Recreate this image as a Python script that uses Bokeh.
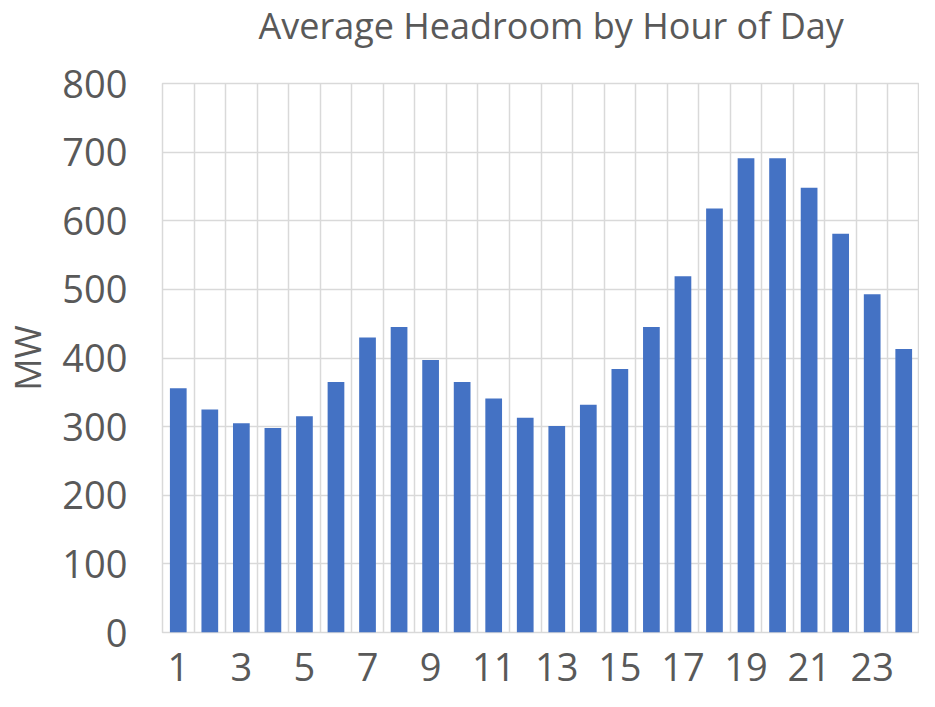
from bokeh.plotting import figure
from bokeh.models import FixedTicker, Range1d, Title
from bokeh.embed import file_html
from bokeh.resources import INLINE

# Data
hours = list(range(1, 25))
headroom = [356, 325, 305, 298, 315, 365, 430, 445, 397, 365, 341, 313,
            301, 332, 384, 445, 519, 618, 691, 691, 648, 581, 493, 413]
x_tick_hours = [1, 3, 5, 7, 9, 11, 13, 15, 17, 19, 21, 23]
y_ticks = [0, 100, 200, 300, 400, 500, 600, 700, 800]
title_text = "Average Headroom by Hour of Day"

TEXT = "#595959"
GRID = "#d9d9d9"
FONT = "Open Sans"

p = figure(width=919, height=691, output_backend="svg", toolbar_location=None,
           x_range=Range1d(0.5, 24.5), y_range=Range1d(0, 800),
           title=title_text,
           min_border_left=162, min_border_right=0,
           min_border_top=83, min_border_bottom=59)

p.vbar(x=hours, top=headroom, width=0.53, fill_color="#4472C4", line_color=None)

# title (outermost in the top panel)
p.title.text_font = FONT
p.title.text_font_size = "36px"
p.title.text_font_style = "normal"
p.title.text_color = TEXT
p.title.align = "left"
p.title.offset = 96
p.title.vertical_align = "top"
p.title.standoff = 0

# blank spacer between the title and the plot frame
spacer = Title(text=" ", text_font_size="2px", standoff=28)
p.add_layout(spacer, "above")

# axes
for ax in (p.xaxis, p.yaxis):
    ax.major_tick_in = 0
    ax.major_tick_out = 0
    ax.minor_tick_in = 0
    ax.minor_tick_out = 0
    ax.axis_line_color = None
    ax.major_label_text_font = FONT
    ax.major_label_text_font_size = "38px"
    ax.major_label_text_color = TEXT

p.xaxis.ticker = FixedTicker(ticks=x_tick_hours)
p.xaxis.major_label_standoff = 20
p.xaxis.major_label_text_line_height = 1.0
p.yaxis.ticker = FixedTicker(ticks=y_ticks)
p.yaxis.major_label_standoff = 35
p.yaxis.axis_label = "MW"
p.yaxis.axis_label_text_font = FONT
p.yaxis.axis_label_text_font_size = "36px"
p.yaxis.axis_label_text_font_style = "normal"
p.yaxis.axis_label_text_color = TEXT
p.yaxis.axis_label_standoff = 7

# grids
p.xgrid.ticker = FixedTicker(ticks=[h + 0.5 for h in hours[:-1]])
p.xgrid.grid_line_color = GRID
p.xgrid.grid_line_width = 1.5
p.ygrid.ticker = FixedTicker(ticks=y_ticks)
p.ygrid.grid_line_color = GRID
p.ygrid.grid_line_width = 1.5

p.outline_line_color = GRID
p.outline_line_width = 1.5
p.background_fill_color = "white"
p.border_fill_color = "white"

open("out.html", "w").write(file_html(p, INLINE))
